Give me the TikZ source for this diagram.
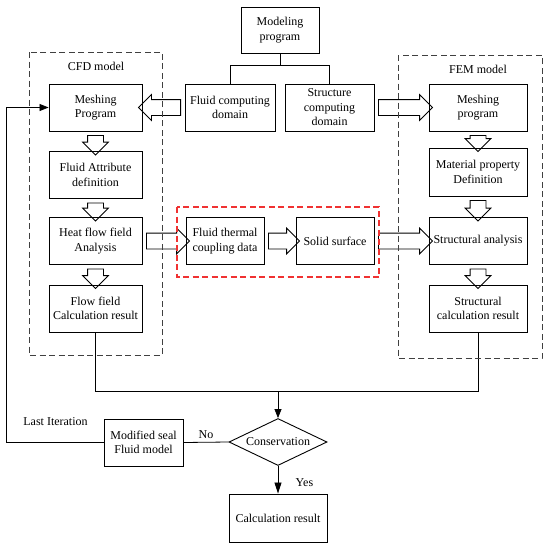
\documentclass[tikz,border=0pt]{standalone}
\usepackage{fontspec}
\setmainfont{Liberation Serif}
\usetikzlibrary{shapes.geometric, shapes.arrows, arrows.meta, calc}

\definecolor{framered}{RGB}{240,50,50}

\tikzstyle{process} = [rectangle, draw=black, line width=0.9pt, align=center, inner sep=1pt, minimum height=47pt]
\tikzstyle{decision} = [diamond, draw=black, line width=0.9pt, align=center, inner sep=0pt, shape aspect=2.1, minimum width=98pt, minimum height=47pt]
\tikzstyle{tag} = [inner sep=1pt]
\tikzstyle{arrow} = [line width=0.8pt,->,>={Triangle[length=9pt,width=7pt]}]
\tikzstyle{fatarrow} = [single arrow, draw=black, line width=0.8pt, inner xsep=0pt, inner ysep=7.5pt, minimum width=25pt, single arrow head extend=5pt, sloped, allow upside down]
\tikzstyle{frame} = [draw=black!75, line width=0.8pt, dash pattern=on 6pt off 3.5pt]
\tikzstyle{redframe} = [draw=framered, line width=1.2pt, dash pattern=on 6pt off 3.5pt]

% hollow block arrow between two anchors
\newcommand{\fatconn}[2]{%
  \path let \p1 = ($(#2)-(#1)$), \n1 = {veclen(\x1,\y1)} in
    (#1) -- (#2) node[fatarrow, midway, minimum height=\n1] {};}

\begin{document}
\begin{tikzpicture}[x=1pt, y=-1pt, font=\fontsize{12}{14.5}\selectfont]

\useasboundingbox (0,0) rectangle (550,547);

\node (model) [process, minimum width=78pt, minimum height=46pt] at (280,30) {Modeling\\program};
\node (fluiddom) [process, minimum width=90pt] at (230,107.5) {Fluid computing\\domain};
\node (structdom) [process, minimum width=89pt] at (329.5,107.5) {Structure\\computing\\domain};

% CFD side
\node (cfdlabel) [tag] at (96,66) {CFD model};
\node (mesh1) [process, minimum width=93pt] at (95.5,107.5) {Meshing\\Program};
\node (attr) [process, minimum width=93pt] at (95.5,175) {Fluid Attribute\\definition};
\node (heat) [process, minimum width=93pt] at (95.5,241) {Heat flow field\\Analysis};
\node (flowres) [process, minimum width=93pt] at (95.5,308.5) {Flow field\\Calculation result};

% FEM side
\node (femlabel) [tag] at (478,69) {FEM model};
\node (mesh2) [process, minimum width=98pt] at (478,107.5) {Meshing\\program};
\node (matdef) [process, minimum width=98pt, minimum height=48pt] at (478,172) {Material property\\Definition};
\node (structan) [process, minimum width=98pt] at (478,241) {Structural analysis};
\node (structres) [process, minimum width=98pt] at (478,308.5) {Structural\\calculation result};

% coupling
\node (thermal) [process, minimum width=78pt] at (225,241) {Fluid thermal\\coupling data};
\node (solid) [process, minimum width=78pt] at (335,241) {Solid surface};

% iteration
\node (conserv) [decision] at (278,442) {Conservation};
\node (modseal) [process, minimum width=79pt] at (143.5,442.5) {Modified seal\\Fluid model};
\node (calcres) [process, minimum width=98pt, minimum height=48pt] at (278,518) {Calculation result};
\node (lastiter) [tag] at (55.5,422) {Last Iteration};

\coordinate (split) at ($(model.south)+(0,12)$);
\coordinate (merge) at (278,391);
\coordinate (back) at (6.5,442.5);

\draw [line width=0.8pt] (model.south) -- (split);
\draw [line width=0.8pt] (split) -| (fluiddom.north);
\draw [line width=0.8pt] (split) -| (structdom.north);

\fatconn{fluiddom.west}{mesh1.east}
\fatconn{structdom.east}{mesh2.west}
\fatconn{mesh1.south}{attr.north}
\fatconn{attr.south}{heat.north}
\fatconn{heat.south}{flowres.north}
\fatconn{mesh2.south}{matdef.north}
\fatconn{matdef.south}{structan.north}
\fatconn{structan.south}{structres.north}
\fatconn{heat.east}{thermal.west}
\fatconn{thermal.east}{solid.west}
\fatconn{solid.east}{structan.west}

\draw [line width=0.8pt] (flowres.south) |- (merge);
\draw [line width=0.8pt] (structres.south) |- (merge);
\draw [arrow] (merge) -- (conserv.north);
\draw [line width=0.8pt] (conserv.west) -- node[anchor=south, inner sep=3pt] {No} (modseal.east);
\draw [arrow] (modseal.west) -- (back) |- (mesh1.west);
\draw [arrow, >={Triangle[length=11pt,width=7pt]}] (conserv.south) -- node[anchor=west, xshift=14pt, yshift=-3pt] {Yes} (calcres.north);

% dashed frames
\draw [frame] (29,52) rectangle (162,355);
\draw [frame] (398,55) rectangle (542,358);
\draw [redframe] (177,207) rectangle (379,277);

\end{tikzpicture}
\end{document}
